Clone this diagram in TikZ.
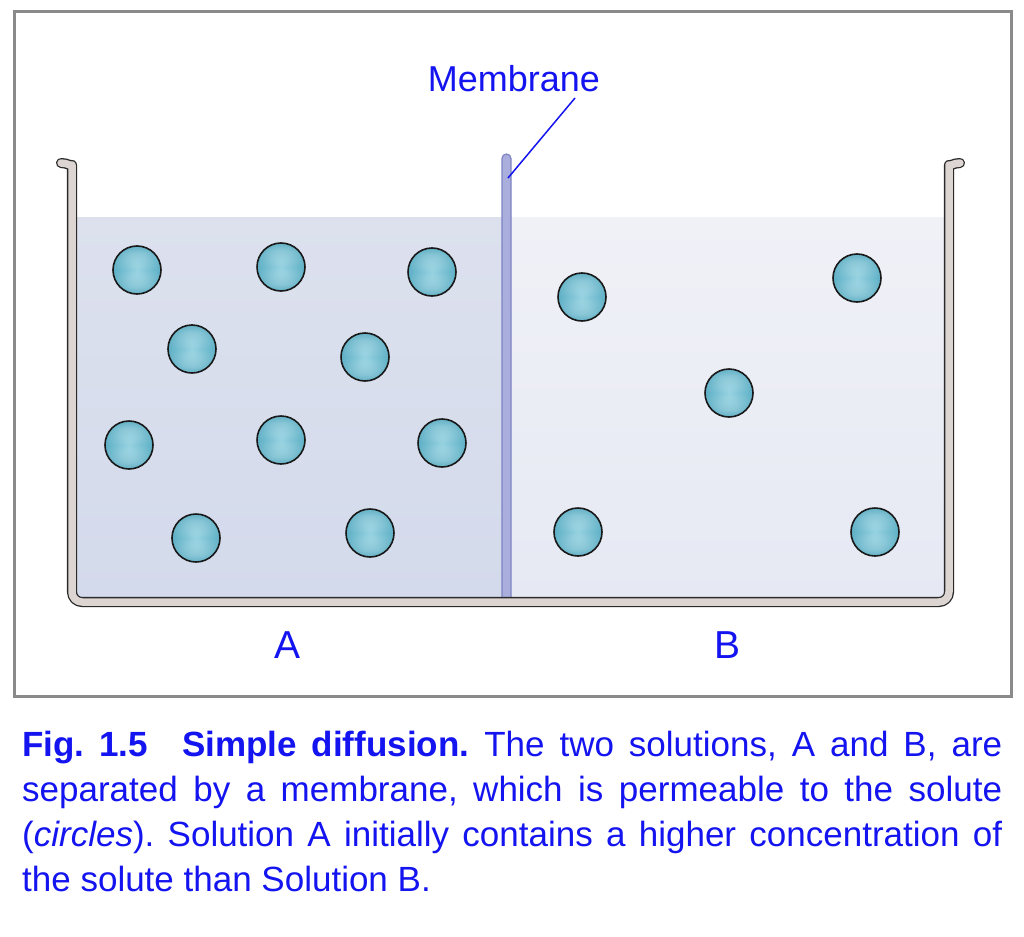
\documentclass[tikz,border=0pt]{standalone}
\usepackage{fontspec}
\setmainfont{Liberation Sans}
\usetikzlibrary{calc,fadings}
\definecolor{framegray}{HTML}{8A8A8A}
\definecolor{wallfill}{HTML}{DDD5D2}
\definecolor{wallline}{HTML}{2A2A2A}
\definecolor{liqLtop}{HTML}{DDE1EE}
\definecolor{liqLbot}{HTML}{D3DAEB}
\definecolor{liqRtop}{HTML}{F0F1F7}
\definecolor{liqRbot}{HTML}{E6E9F3}
\definecolor{memfill}{HTML}{A9AEDD}
\definecolor{memline}{HTML}{7D84C4}
\definecolor{txtblue}{HTML}{1414F0}
\definecolor{ballin}{HTML}{D2F0F6}
\definecolor{ballmid}{HTML}{96D2E1}
\definecolor{ballout}{HTML}{4AA3BC}
\pgfdeclareverticalshading{ballv}{100bp}{color(0bp)=(ballout); color(20bp)=(ballout!35!ballin); color(32bp)=(ballin); color(50bp)=(ballmid); color(68bp)=(ballin); color(80bp)=(ballout!35!ballin); color(100bp)=(ballout)}
\tikzfading[name=ringfade, inner color=transparent!100, outer color=transparent!0]
\tikzset{
  wall/.style={draw=wallline, line width=1.3pt, double=wallfill, double distance=7.5pt, line cap=round, line join=round, rounded corners=10pt},
  ball/.style={circle, minimum size=48pt, inner sep=0pt, draw=black!90, line width=1.6pt, shading=ballv,
    path picture={\fill[ballout, opacity=0.75, path fading=ringfade, fit fading=true] (path picture bounding box.south west) rectangle (path picture bounding box.north east);}},
  lbl/.style={text=txtblue, inner sep=0pt},
  capline/.style={text=txtblue, inner sep=0pt, anchor=base west, font=\fontsize{35}{45}\selectfont}
}
\begin{document}
\frenchspacing
\begin{tikzpicture}[x=1pt,y=-1pt]
\useasboundingbox (0,0) rectangle (1024,936);
\fill[white] (0,0) rectangle (1024,936);
% frame
\draw[framegray, line width=3pt] (14,12) rectangle (1011,696);
% liquids
\shade[top color=liqLtop, bottom color=liqLbot] (76,217) rectangle (503,598);
\shade[top color=liqRtop, bottom color=liqRbot] (510,217) rectangle (946,598);
% membrane
\draw[fill=memfill, draw=memline, line width=1.2pt, rounded corners=4.5pt] (502,603) -- (502,154) -- (511,154) -- (511,603) -- cycle;
\coordinate (memtip) at (508,178);
% container
\draw[wall] (61,163) .. controls (68,163) and (72,167) .. (72,175) -- (72,602) -- (949,602) -- (949,175) .. controls (949,167) and (953,163) .. (960,163);
% membrane label
\node[lbl, font=\fontsize{36}{40}\selectfont] (memlabel) at (514,79) {Membrane};
\coordinate (leadtop) at (575,98);
\draw[txtblue, line width=1.5pt] (leadtop) -- (memtip);
% balls left
\foreach \n/\x/\y in {l1/137/270, l2/281/267, l3/432/272, l4/192/349, l5/365/357, l6/129/445, l7/281/440, l8/442/443, l9/196/538, l10/370/533}
  \node[ball] (\n) at (\x,\y) {};
% balls right
\foreach \n/\x/\y in {r1/582/297, r2/857/278, r3/729/393, r4/578/532, r5/875/532}
  \node[ball] (\n) at (\x,\y) {};
% side labels
\node[lbl, font=\fontsize{39}{42}\selectfont] (labA) at (288,645) {A};
\node[lbl, font=\fontsize{39}{42}\selectfont] (labB) at (727,645) {B};
% caption
\node[capline] (cap1) at (22,756) {\makebox[980pt][s]{\textbf{Fig. 1.5}\hspace{34pt}\textbf{Simple diffusion.} The two solutions, A and B, are}};
\node[capline] (cap2) at (22,801) {\makebox[980pt][s]{separated by a membrane, which is permeable to the solute}};
\node[capline] (cap3) at (22,846) {\makebox[980pt][s]{(\textit{circles}). Solution A initially contains a higher concentration of}};
\node[capline] (cap4) at (22,891) {the solute than Solution B.};
\end{tikzpicture}
\end{document}
